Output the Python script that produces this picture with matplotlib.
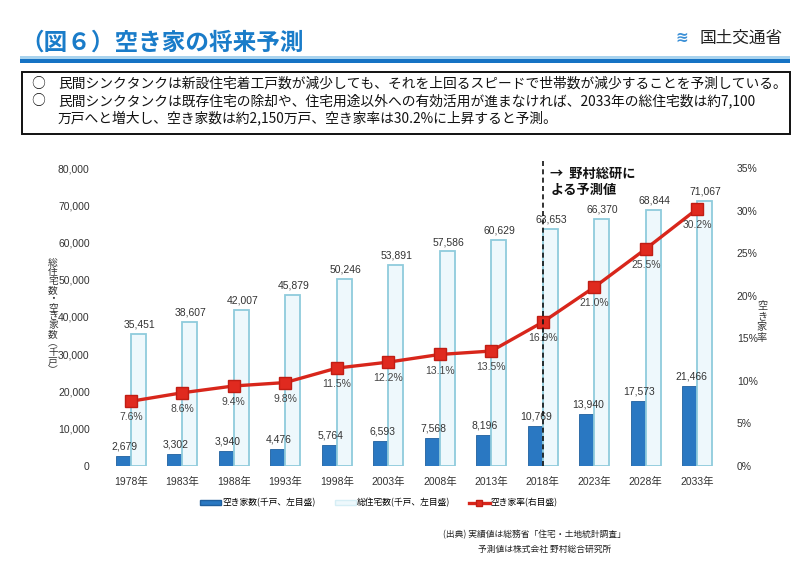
import matplotlib
matplotlib.use("Agg")
import matplotlib.pyplot as plt
from matplotlib.patches import Rectangle, Patch
from matplotlib.lines import Line2D
import numpy as np

plt.rcParams['font.family'] = ['Noto Sans CJK JP', 'DejaVu Sans']
NUMFONT = ['Liberation Sans', 'Noto Sans CJK JP']

years = ["1978年", "1983年", "1988年", "1993年", "1998年", "2003年", "2008年",
         "2013年", "2018年", "2023年", "2028年", "2033年"]
vacant = [2679, 3302, 3940, 4476, 5764, 6593, 7568, 8196, 10769, 13940, 17573, 21466]
total = [35451, 38607, 42007, 45879, 50246, 53891, 57586, 60629, 63653, 66370, 68844, 71067]
rate = [7.6, 8.6, 9.4, 9.8, 11.5, 12.2, 13.1, 13.5, 16.9, 21.0, 25.5, 30.2]
left_ticks = [0, 10000, 20000, 30000, 40000, 50000, 60000, 70000, 80000]
right_ticks = [0, 5, 10, 15, 20, 25, 30, 35]

W, H = 800, 566
fig = plt.figure(figsize=(8, 5.66), dpi=100)

def fx(px):
    return px / W

def fy(py):
    return 1 - py / H

# Title
fig.text(fx(20), fy(50), "（図６）空き家の将来予測", fontsize=17, fontweight='bold',
         color='#1a7cc9', ha='left', va='baseline')
# Title underline
fig.add_artist(Rectangle((fx(20), fy(63)), fx(770), 4 / H, color='#1673c4', lw=0,
                         transform=fig.transFigure))
fig.add_artist(Rectangle((fx(20), fy(59)), fx(770), 3 / H, color='#a9d3ee', lw=0,
                         transform=fig.transFigure))
# Logo
fig.text(fx(682), fy(37), "≋", fontsize=11, color='#3a8fd6', ha='center', va='center',
         fontweight='bold')
fig.text(fx(700), fy(38), "国土交通省", fontsize=12, color='#222222', ha='left',
         va='center')

# Text box
fig.add_artist(Rectangle((fx(22), fy(134)), fx(768), 62 / H, fill=False, ec='#111111',
                         lw=1.4, transform=fig.transFigure))
lines = [
    (fx(31), fy(84), "○"),
    (fx(58), fy(84), "民間シンクタンクは新設住宅着工戸数が減少しても、それを上回るスピードで世帯数が減少することを予測している。"),
    (fx(31), fy(101), "○"),
    (fx(58), fy(101), "民間シンクタンクは既存住宅の除却や、住宅用途以外への有効活用が進まなければ、2033年の総住宅数は約7,100"),
    (fx(58), fy(118), "万戸へと増大し、空き家数は約2,150万戸、空き家率は30.2%に上昇すると予測。"),
]
for x, y, t in lines:
    fig.text(x, y, t, fontsize=9.9, color='#111111', ha='left', va='center')

# Axes
ax = fig.add_axes([fx(105), fy(466), fx(618), (466 - 168) / H])
x = np.arange(len(years))
bw = 0.29
ax.bar(x - bw / 2, vacant, width=bw, color='#2a78c2', edgecolor='#1f5f9e', lw=0.6,
       zorder=2)
ax.bar(x + bw / 2, total, width=bw, color='#eef8fc', edgecolor='#8fcbdc', lw=1.3,
       zorder=2)
ax.set_xlim(-0.5, len(years) - 0.5)
ax.set_ylim(0, 80000)
ax.set_yticks(left_ticks)
ax.set_yticklabels([f"{v:,}" for v in left_ticks], fontsize=7.5, color='#333333',
                   family=NUMFONT)
ax.set_xticks(x)
ax.set_xticklabels(years, fontsize=7.5, color='#333333', family=NUMFONT)
ax.tick_params(length=0, pad=8)
ax.tick_params(axis='y', pad=11)
for s in ax.spines.values():
    s.set_visible(False)

for i in range(len(years)):
    ax.text(x[i] + bw / 2 + 0.02, total[i] + 1200, f"{total[i]:,}", ha='center',
            va='bottom', fontsize=7.5, color='#333333', zorder=5, family=NUMFONT)
    ax.text(x[i] - 0.12, vacant[i] + 1200, f"{vacant[i]:,}", ha='center', va='bottom',
            fontsize=7.5, color='#333333', zorder=5, family=NUMFONT)

ax2 = ax.twinx()
ax2.set_ylim(0, 35)
ax2.plot(x, rate, color='#d8261b', lw=2.4, marker='s', markersize=8,
         markerfacecolor='#e02a1f', markeredgecolor='#c01d14', zorder=4)
for i in range(len(years)):
    ax2.text(x[i], rate[i] - 1.3, f"{rate[i]:.1f}%", ha='center', va='top',
             fontsize=7.5, color='#444444', zorder=5, family=NUMFONT)
ax2.set_yticks(right_ticks)
ax2.set_yticklabels([f"{v}%" for v in right_ticks], fontsize=7.5, color='#333333',
                    family=NUMFONT)
ax2.tick_params(length=0, pad=10)
for s in ax2.spines.values():
    s.set_visible(False)

# Dashed forecast line
ax2.plot([8, 8], [0, 36.2], color='#111111', lw=1.2, ls=(0, (3, 2)), clip_on=False,
         zorder=6)
ax2.text(8.15, 34.3, "→  野村総研に", fontsize=9.5, fontweight='bold', ha='left',
         va='center', color='#111111')
ax2.text(8.15, 32.4, "よる予測値", fontsize=9.5, fontweight='bold', ha='left',
         va='center', color='#111111')

# Axis labels (vertical stacked, one glyph per position)
left_label = "総住宅数・空き家数︵千戸︶"
y0 = 263
for k, ch in enumerate(left_label):
    fig.text(fx(53), fy(y0 + k * 8.9), ch, fontsize=7, color='#333333',
             ha='center', va='center')
y0 = 306
for k, ch in enumerate("空き家率"):
    fig.text(fx(762), fy(y0 + k * 10.5), ch, fontsize=7.3, color='#333333',
             ha='center', va='center')

# Legend
handles = [
    Patch(facecolor='#2a78c2', edgecolor='#1f5f9e'),
    Patch(facecolor='#eef8fc', edgecolor='#d6eef5'),
    Line2D([0], [0], color='#d8261b', lw=2.4, marker='s', markersize=5,
           markerfacecolor='#e02a1f', markeredgecolor='#c01d14'),
]
labels = ["空き家数(千戸、左目盛)", "総住宅数(千戸、左目盛)", "空き家率(右目盛)"]
fig.legend(handles, labels, loc='center', bbox_to_anchor=(fx(379), fy(503)), ncol=3,
           frameon=False, fontsize=6.3, handlelength=2.4, handleheight=0.5,
           columnspacing=2.2, handletextpad=0.1)

# Source
fig.text(fx(443), fy(535), "(出典) 実績値は総務省「住宅・土地統計調査」", fontsize=6.3,
         color='#222222', ha='left', va='center')
fig.text(fx(478), fy(549), "予測値は株式会社 野村総合研究所", fontsize=6.3,
         color='#222222', ha='left', va='center')

fig.savefig("out.png", dpi=100)
